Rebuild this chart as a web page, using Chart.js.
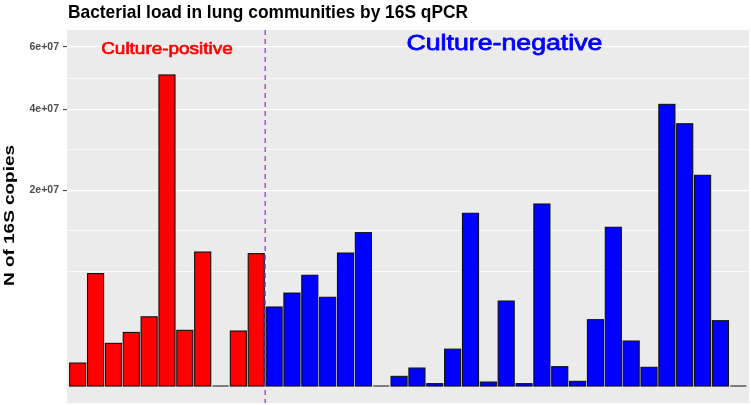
<!DOCTYPE html>
<html><head><meta charset="utf-8">
<script src="https://cdn.jsdelivr.net/npm/chart.js@4/dist/chart.umd.min.js"></script>
<style>html,body{margin:0;padding:0;background:#fff}#wrap{width:751px;height:405px;position:relative}</style>
</head><body><div id="wrap"><canvas id="c" width="751" height="405"></canvas></div>
<script>
// ---- data ----
const samples = Array.from({length: 38}, (_, i) => 'S' + (i + 1));
const groups = ['positive','positive','positive','positive','positive','positive','positive','positive','positive','positive','positive',
  'negative','negative','negative','negative','negative','negative','negative','negative','negative','negative','negative','negative','negative',
  'negative','negative','negative','negative','negative','negative','negative','negative','negative','negative','negative','negative','negative','negative'];
const copies = [2.76e5, 6.6e6, 9.5e5, 1.5e6, 2.5e6, 5.05e7, 1.62e6, 9.37e6, 0, 1.58e6, 9.15e6,
  3.26e6, 4.51e6, 6.40e6, 4.11e6, 9.23e6, 1.228e7, 0, 4.9e4, 1.69e5, 3e3, 7.1e5, 1.557e7, 8.3e3,
  3.77e6, 3e3, 1.729e7, 1.96e5, 1.15e4, 2.30e6, 1.315e7, 1.057e6, 1.83e5, 4.14e7, 3.59e7, 2.317e7, 2.23e6, 0];
const groupColors = {positive: '#FF0000', negative: '#0000FF'};
const yTickValues = [2e7, 4e7, 6e7];
const yTickLabels = ['2e+07', '4e+07', '6e+07'];
const annotationTexts = ['Culture-positive', 'Culture-negative'];
const annotationX = [5, 23.9];
const annotationY = 6e7;
const dividerX = 10.5;
const titleText = 'Bacterial load in lung communities by 16S qPCR';
const yTitleText = 'N of 16S copies';

// ---- sqrt scale (like ggplot scale_y_sqrt) ----
const ssqrt = v => Math.sign(v) * Math.sqrt(Math.abs(v));
const majS = yTickValues.map(Math.sqrt);
const bd = majS[1] - majS[0];
const ext = [majS[0] - bd, ...majS];
const gridValues = [];
for (let i = 0; i < ext.length; i++) {
  gridValues.push(ext[i] * ext[i]);
  if (i < ext.length - 1) { const m = (ext[i] + ext[i + 1]) / 2; gridValues.push(m * m); }
}
const isMajor = v => yTickValues.some(t => Math.abs(t - v) < 1);
const sTop = Math.sqrt(annotationY);
const yMin = -Math.pow(0.05 * sTop, 2);
const yMax = Math.pow(1.05 * sTop, 2);

class SqrtScale extends Chart.LinearScale {
  configure() { super.configure(); this._s0 = ssqrt(this.min); this._s1 = ssqrt(this.max); }
  getPixelForValue(v) { return this.getPixelForDecimal((ssqrt(v) - this._s0) / (this._s1 - this._s0)); }
  getValueForPixel(p) { const s = this._s0 + this.getDecimalForPixel(p) * (this._s1 - this._s0); return Math.sign(s) * s * s; }
  buildTicks() { return gridValues.map(v => ({value: v})); }
}
SqrtScale.id = 'sqrt';
SqrtScale.defaults = Chart.LinearScale.defaults;
Chart.register(SqrtScale);

const FONT = '"Liberation Sans", Arial, Helvetica, sans-serif';
function fitText(ctx, text, font, targetW, x, y, color, rot, strokeW) {
  ctx.save();
  ctx.font = font;
  const w = ctx.measureText(text).width;
  ctx.translate(x, y);
  if (rot) ctx.rotate(rot);
  ctx.scale(targetW / w, 1);
  ctx.fillStyle = color;
  ctx.textAlign = 'center';
  ctx.textBaseline = 'alphabetic';
  ctx.fillText(text, 0, 0);
  if (strokeW) { ctx.strokeStyle = color; ctx.lineWidth = strokeW; ctx.lineJoin = 'round'; ctx.strokeText(text, 0, 0); }
  ctx.restore();
}

const decor = {
  id: 'decor',
  beforeDraw(chart) {
    const {ctx, chartArea: a} = chart;
    ctx.save();
    ctx.fillStyle = '#fff'; ctx.fillRect(0, 0, chart.width, chart.height);
    ctx.fillStyle = '#EBEBEB'; ctx.fillRect(a.left, a.top, a.right - a.left, a.bottom - a.top);
    ctx.restore();
  },
  afterDatasetsDraw(chart) {
    const {ctx, chartArea: a, scales} = chart;
    ctx.save();
    ctx.beginPath(); ctx.rect(a.left, a.top, a.right - a.left, a.bottom - a.top); ctx.clip();
    // bar outlines (ggplot draws outline even for zero-height bars)
    ctx.strokeStyle = '#111'; ctx.lineWidth = 1.1;
    chart.getDatasetMeta(0).data.forEach(el => {
      const p = el.getProps(['x', 'y', 'base', 'width'], true);
      ctx.strokeRect(p.x - p.width / 2, Math.min(p.y, p.base), p.width, Math.abs(p.base - p.y));
    });
    // dashed divider
    const xv = scales.x.getPixelForValue(dividerX);
    ctx.strokeStyle = '#A030F0'; ctx.lineWidth = 1.3; ctx.setLineDash([5, 4]);
    ctx.beginPath(); ctx.moveTo(xv, a.top); ctx.lineTo(xv, a.bottom); ctx.stroke();
    ctx.setLineDash([]);
    ctx.restore();
    // annotations
    const y6 = scales.y.getPixelForValue(annotationY);
    fitText(ctx, annotationTexts[0], '17px ' + FONT, 131.6, scales.x.getPixelForValue(annotationX[0]), y6 + 6.6, groupColors.positive, 0, 0.7);
    fitText(ctx, annotationTexts[1], '22px ' + FONT, 196, scales.x.getPixelForValue(annotationX[1]), y6 + 2.6, groupColors.negative, 0, 0.8);
  },
  afterDraw(chart) {
    const {ctx} = chart;
    // title
    ctx.save(); ctx.font = 'bold 19px ' + FONT; ctx.fillStyle = '#000'; ctx.textAlign = 'left';
    const w = ctx.measureText(titleText).width; ctx.translate(68, 17.5); ctx.scale(400 / w, 1); ctx.fillText(titleText, 0, 0); ctx.restore();
    // y title
    fitText(ctx, yTitleText, 'bold 15px ' + FONT, 141, 13.5, 215.5, '#000', -Math.PI / 2);
  }
};

new Chart(document.getElementById('c'), {
  type: 'bar',
  data: {
    datasets: [{
      data: copies.map((v, i) => ({x: i, y: v})),
      backgroundColor: groups.map(g => groupColors[g]),
      borderWidth: 0,
      barPercentage: 0.9,
      categoryPercentage: 1
    }]
  },
  options: {
    responsive: false,
    devicePixelRatio: 1,
    animation: false,
    layout: {padding: {top: 30, right: 2, bottom: 2, left: 0}},
    plugins: {legend: {display: false}, tooltip: {enabled: false}, title: {display: false}},
    scales: {
      x: {type: 'linear', offset: false, min: -0.6, max: samples.length - 1 + 0.6, display: false},
      y: {
        type: 'sqrt', min: yMin, max: yMax,
        afterFit(s) { s.width = 67; s.paddingTop = 0; s.paddingBottom = 0; },
        border: {display: false},
        grid: {
          color: '#FFFFFF',
          lineWidth: c => (c.tick && isMajor(c.tick.value)) ? 1.2 : 0.7,
          tickColor: c => (c.tick && isMajor(c.tick.value)) ? '#333333' : 'rgba(0,0,0,0)',
          tickLength: 4, tickWidth: 1, drawTicks: true
        },
        ticks: {
          autoSkip: false, padding: 4, color: '#4D4D4D',
          font: {family: FONT, size: 10.5, weight: 'bold'},
          callback: v => { const i = yTickValues.findIndex(t => Math.abs(t - v) < 1); return i >= 0 ? yTickLabels[i] : ''; }
        }
      }
    }
  },
  plugins: [decor]
});
</script></body></html>
